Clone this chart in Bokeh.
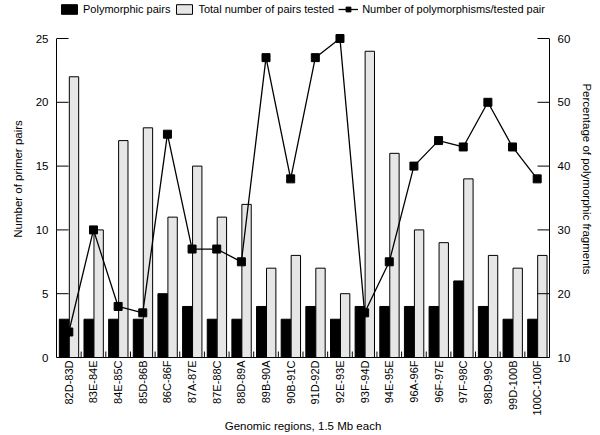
import math
from bokeh.plotting import figure
from bokeh.models import (Range1d, LinearAxis, FixedTicker, ColumnDataSource,
                          Legend, LegendItem)
from bokeh.transform import dodge
from bokeh.embed import file_html
from bokeh.resources import INLINE

regions = ["82D-83D", "83E-84E", "84E-85C", "85D-86B", "86C-86F", "87A-87E",
           "87E-88C", "88D-89A", "89B-90A", "90B-91C", "91D-92D", "92E-93E",
           "93F-94D", "94E-95E", "96A-96F", "96F-97E", "97F-98C", "98D-99C",
           "99D-100B", "100C-100F"]
polymorphic_pairs = [3, 3, 3, 3, 5, 4, 3, 3, 4, 3, 4, 3, 4, 4, 4, 4, 6, 4, 3, 3]
total_pairs = [22, 10, 17, 18, 11, 15, 11, 12, 7, 8, 7, 5, 24, 16, 10, 9, 14, 8, 7, 8]
pct_polymorphic = [14, 30, 18, 17, 45, 27, 27, 25, 57, 38, 57, 60, 17, 25, 40, 44,
                   43, 50, 43, 38]
left_ticks = [0, 5, 10, 15, 20, 25]
right_ticks = [10, 20, 30, 40, 50, 60]

FONT = "Liberation Sans"
n = len(regions)
pos = list(range(1, n + 1))
bounds = [i + 0.5 for i in range(1, n)]
src = ColumnDataSource(dict(x=pos, poly=polymorphic_pairs, total=total_pairs,
                            pct=pct_polymorphic))

# frame runs to the top of the canvas; extra headroom above the axes holds the legend
HEAD = 357 / 319
p = figure(width=600, height=435,
           output_backend="svg", toolbar_location=None,
           x_range=Range1d(0.5, n + 0.5),
           y_range=Range1d(left_ticks[0], left_ticks[0] + (left_ticks[-1] - left_ticks[0]) * HEAD),
           min_border_left=56, min_border_right=51, min_border_top=0,
           min_border_bottom=78, x_axis_location=None, y_axis_location=None)
p.outline_line_color = None
p.xgrid.visible = False
p.ygrid.visible = False
p.extra_y_ranges = {"pct": Range1d(right_ticks[0],
                                   right_ticks[0] + (right_ticks[-1] - right_ticks[0]) * HEAD)}

r_poly = p.vbar(x=dodge("x", -0.19, range=p.x_range), top="poly", width=0.39,
                source=src, fill_color="black", line_color="black")
r_tot = p.vbar(x=dodge("x", 0.21, range=p.x_range), top="total", width=0.38,
               source=src, fill_color="#e6e6e6", line_color="black", line_width=1)
r_line = p.line("x", "pct", source=src, y_range_name="pct", line_color="black",
                line_width=1.3)
r_pts = p.scatter("x", "pct", source=src, y_range_name="pct", marker="square",
                  size=8, fill_color="black", line_color="black")

# inward tick marks (drawn from the tick arrays)
p.ray(x=[p.x_range.start] * len(left_ticks), y=left_ticks, length=12,
      length_units="screen", angle=0, line_color="black", line_width=1)
p.ray(x=[p.x_range.end] * len(right_ticks), y=right_ticks, length=12,
      length_units="screen", angle=math.pi, line_color="black", line_width=1,
      y_range_name="pct")
p.ray(x=bounds, y=[0] * len(bounds), length=6, length_units="screen",
      angle=math.pi / 2, line_color="black", line_width=1)

def style(ax, fs="11.5px"):
    ax.axis_line_color = "black"
    ax.axis_line_width = 1
    ax.major_label_text_font = FONT
    ax.major_label_text_font_size = fs
    ax.major_label_text_color = "black"
    ax.axis_label_text_font = FONT
    ax.axis_label_text_font_size = "11.5px"
    ax.axis_label_text_font_style = "normal"
    ax.axis_label_text_color = "black"
    ax.major_tick_in = 0
    ax.major_tick_out = 0
    ax.minor_tick_line_color = None

bottom = LinearAxis(ticker=FixedTicker(ticks=pos), axis_label="Genomic regions, 1.5 Mb each")
bottom.major_label_overrides = {i: lab for i, lab in zip(pos, regions)}
bottom.major_label_orientation = math.pi / 2
bottom.major_label_standoff = 3
bottom.axis_label_standoff = 1
style(bottom, "11px")
p.add_layout(bottom, "below")

left = LinearAxis(ticker=FixedTicker(ticks=left_ticks), axis_label="Number of primer pairs",
                  bounds=(left_ticks[0], left_ticks[-1]))
left.major_label_standoff = 8
left.axis_label_standoff = 9
style(left)
p.add_layout(left, "left")

right = LinearAxis(y_range_name="pct", ticker=FixedTicker(ticks=right_ticks),
                   axis_label="Percentage of polymorphic fragments",
                   bounds=(right_ticks[0], right_ticks[-1]))
right.major_label_standoff = 8
right.axis_label_standoff = 8
style(right)
p.add_layout(right, "right")

legend = Legend(items=[
    LegendItem(label="Polymorphic pairs", renderers=[r_poly]),
    LegendItem(label="Total number of pairs tested", renderers=[r_tot]),
    LegendItem(label="Number of polymorphisms/tested pair", renderers=[r_line, r_pts]),
], location="top_left", orientation="horizontal",
    glyph_width=20, glyph_height=12, label_height=12,
    label_standoff=4, padding=0, margin=3, spacing=4,
    border_line_color=None, background_fill_alpha=0,
    label_text_font=FONT, label_text_font_size="11px", label_text_color="black")
p.add_layout(legend, "center")

with open("out.html", "w") as f:
    f.write(file_html(p, INLINE))
